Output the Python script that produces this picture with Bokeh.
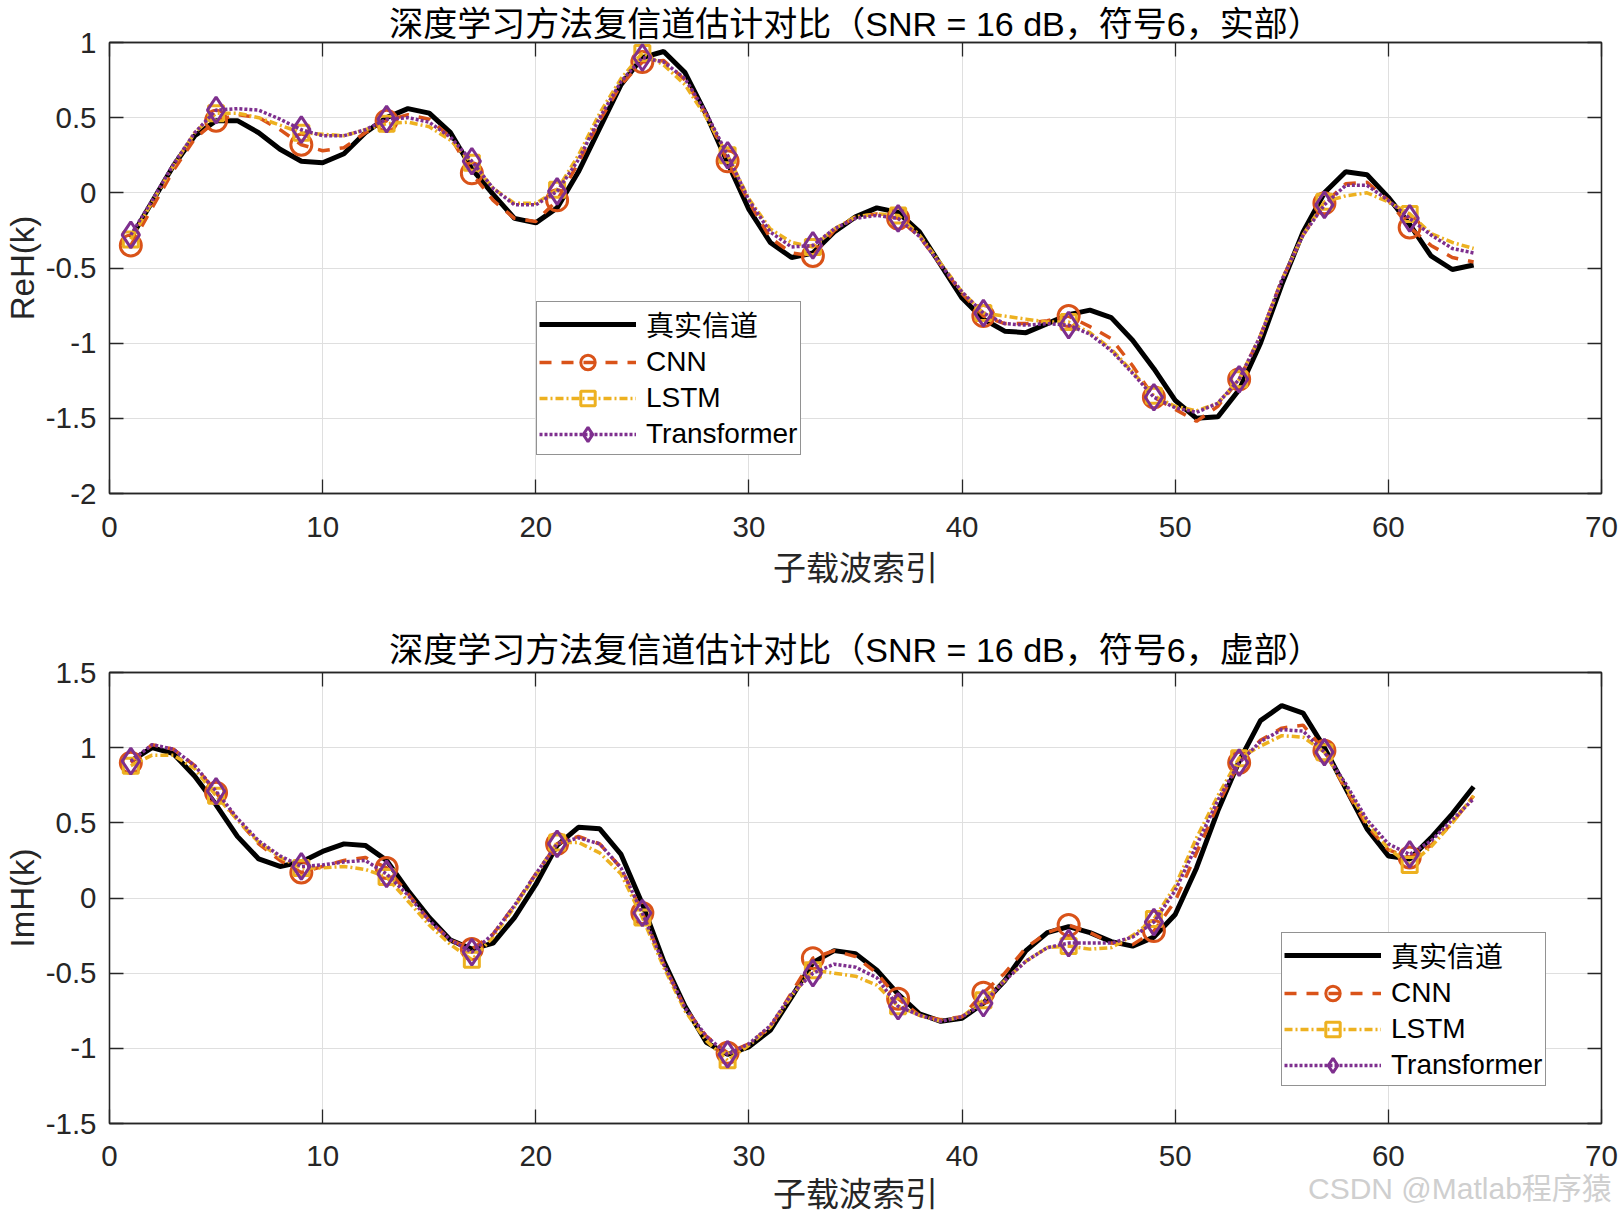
from bokeh.plotting import figure
from bokeh.layouts import column
from bokeh.models import Legend, LegendItem, LinearAxis, FixedTicker, Range1d, Div
from bokeh.embed import file_html
from bokeh.resources import INLINE

k = list(range(1, 65))
marker_idx = list(range(0, 64, 4))  # k = 1, 5, 9, ..., 61

x_ticks = [0, 10, 20, 30, 40, 50, 60, 70]
y_ticks_re = [-2, -1.5, -1, -0.5, 0, 0.5, 1]
y_ticks_im = [-1.5, -1, -0.5, 0, 0.5, 1, 1.5]

series_names = ["真实信道", "CNN", "LSTM", "Transformer"]

real_true = [-0.30, -0.06, 0.18, 0.38, 0.48, 0.48, 0.40, 0.29, 0.21, 0.20,
             0.26, 0.40, 0.50, 0.56, 0.53, 0.40, 0.16, -0.01, -0.17, -0.20,
             -0.10, 0.14, 0.43, 0.72, 0.90, 0.94, 0.80, 0.52, 0.20, -0.11,
             -0.33, -0.43, -0.40, -0.26, -0.16, -0.10, -0.13, -0.26, -0.48, -0.70,
             -0.84, -0.92, -0.93, -0.87, -0.81, -0.78, -0.83, -0.98, -1.17, -1.38,
             -1.50, -1.49, -1.31, -1.00, -0.61, -0.26, 0.00, 0.14, 0.12, -0.03,
             -0.21, -0.42, -0.51, -0.48]
real_cnn = [-0.35, -0.10, 0.15, 0.36, 0.48, 0.52, 0.50, 0.42, 0.32, 0.28,
            0.30, 0.40, 0.48, 0.52, 0.49, 0.37, 0.13, -0.05, -0.17, -0.19,
            -0.05, 0.20, 0.48, 0.72, 0.87, 0.88, 0.75, 0.52, 0.21, -0.06,
            -0.30, -0.40, -0.42, -0.25, -0.16, -0.14, -0.17, -0.29, -0.48, -0.67,
            -0.82, -0.87, -0.87, -0.85, -0.82, -0.89, -0.97, -1.15, -1.36, -1.44,
            -1.52, -1.42, -1.24, -0.95, -0.58, -0.28, -0.07, 0.06, 0.07, -0.05,
            -0.23, -0.35, -0.43, -0.46]
real_lstm = [-0.31, -0.06, 0.18, 0.40, 0.53, 0.53, 0.50, 0.45, 0.40, 0.39,
             0.38, 0.42, 0.46, 0.47, 0.44, 0.35, 0.20, 0.03, -0.07, -0.07,
             0.02, 0.25, 0.53, 0.76, 0.93, 0.85, 0.72, 0.50, 0.25, -0.04,
             -0.24, -0.33, -0.36, -0.24, -0.16, -0.14, -0.15, -0.28, -0.47, -0.66,
             -0.80, -0.82, -0.84, -0.86, -0.86, -0.93, -1.04, -1.19, -1.35, -1.42,
             -1.45, -1.40, -1.24, -0.95, -0.58, -0.28, -0.06, -0.02, 0.00, -0.06,
             -0.14, -0.27, -0.33, -0.37]
real_trans = [-0.28, -0.05, 0.19, 0.40, 0.55, 0.56, 0.55, 0.49, 0.42, 0.38,
              0.38, 0.42, 0.49, 0.50, 0.47, 0.37, 0.21, 0.03, -0.08, -0.08,
              0.01, 0.22, 0.50, 0.74, 0.90, 0.87, 0.76, 0.53, 0.25, -0.05,
              -0.26, -0.36, -0.35, -0.24, -0.17, -0.15, -0.17, -0.29, -0.48, -0.66,
              -0.80, -0.87, -0.88, -0.87, -0.88, -0.94, -1.05, -1.20, -1.36, -1.43,
              -1.46, -1.40, -1.24, -0.95, -0.58, -0.28, -0.08, 0.05, 0.05, -0.05,
              -0.17, -0.28, -0.37, -0.40]

imag_true = [0.91, 1.00, 0.96, 0.81, 0.62, 0.41, 0.26, 0.21, 0.24, 0.31,
             0.36, 0.35, 0.25, 0.05, -0.13, -0.28, -0.34, -0.30, -0.13, 0.09,
             0.35, 0.47, 0.46, 0.29, -0.04, -0.42, -0.72, -0.96, -1.04, -0.99,
             -0.88, -0.66, -0.43, -0.35, -0.37, -0.48, -0.64, -0.77, -0.82, -0.80,
             -0.70, -0.55, -0.35, -0.23, -0.19, -0.23, -0.29, -0.32, -0.26, -0.11,
             0.20, 0.58, 0.91, 1.18, 1.28, 1.23, 1.00, 0.73, 0.46, 0.28,
             0.26, 0.40, 0.56, 0.74]
imag_cnn = [0.90, 1.02, 0.99, 0.88, 0.70, 0.52, 0.36, 0.25, 0.17, 0.21,
            0.25, 0.27, 0.20, 0.03, -0.15, -0.28, -0.34, -0.24, -0.05, 0.16,
            0.36, 0.41, 0.36, 0.20, -0.10, -0.44, -0.73, -0.92, -1.03, -0.97,
            -0.86, -0.63, -0.40, -0.35, -0.39, -0.50, -0.67, -0.78, -0.81, -0.79,
            -0.63, -0.50, -0.33, -0.23, -0.18, -0.23, -0.30, -0.31, -0.22, -0.02,
            0.30, 0.62, 0.90, 1.05, 1.13, 1.15, 0.98, 0.72, 0.48, 0.32,
            0.27, 0.35, 0.50, 0.68]
imag_lstm = [0.88, 0.95, 0.95, 0.86, 0.68, 0.52, 0.37, 0.27, 0.20, 0.20,
             0.21, 0.19, 0.14, -0.02, -0.18, -0.31, -0.41, -0.26, -0.06, 0.15,
             0.37, 0.37, 0.30, 0.16, -0.13, -0.46, -0.75, -0.95, -1.08, -0.98,
             -0.86, -0.65, -0.48, -0.50, -0.52, -0.58, -0.72, -0.78, -0.82, -0.79,
             -0.68, -0.55, -0.42, -0.33, -0.32, -0.34, -0.33, -0.25, -0.14, 0.08,
             0.40, 0.68, 0.93, 1.01, 1.08, 1.07, 0.97, 0.74, 0.50, 0.33,
             0.22, 0.34, 0.50, 0.68]
imag_trans = [0.91, 1.02, 0.99, 0.88, 0.71, 0.53, 0.38, 0.28, 0.21, 0.22,
              0.24, 0.25, 0.16, 0.02, -0.15, -0.28, -0.36, -0.24, -0.05, 0.16,
              0.36, 0.40, 0.36, 0.20, -0.10, -0.44, -0.73, -0.92, -1.04, -0.97,
              -0.85, -0.64, -0.50, -0.44, -0.46, -0.53, -0.72, -0.78, -0.82, -0.79,
              -0.70, -0.55, -0.42, -0.33, -0.30, -0.30, -0.30, -0.26, -0.16, 0.05,
              0.35, 0.65, 0.90, 1.04, 1.12, 1.11, 0.97, 0.76, 0.52, 0.36,
              0.29, 0.38, 0.52, 0.66]

FONT = "Liberation Sans, Arial, Noto Sans CJK SC, sans-serif"
AX = "#262626"
C_CNN, C_LSTM, C_TR = "#D95319", "#EDB120", "#7E2F8E"


def fmt(v):
    return "%g" % v


def make_fig(title, ylabel, yr, yticks, data, legend_loc, height,
             border_top, border_bottom, title_standoff, tick_standoff, label_standoff):
    p = figure(width=1619, height=height, x_range=Range1d(0, 70), y_range=Range1d(*yr),
               output_backend="svg", toolbar_location=None,
               min_border_left=109, min_border_right=18,
               min_border_top=border_top, min_border_bottom=border_bottom)
    p.title.text = title
    p.title.align = "center"
    p.title.text_font = FONT
    p.title.text_font_size = "34px"
    p.title.text_font_style = "normal"
    p.title.text_color = "#000000"
    p.title.standoff = title_standoff
    p.title.offset = 0

    p.outline_line_color = AX
    p.outline_line_width = 1.3

    for ax, ticks in ((p.xaxis[0], x_ticks), (p.yaxis[0], yticks)):
        ax.ticker = FixedTicker(ticks=ticks)
        ax.major_label_overrides = {t: fmt(t) for t in ticks}
        ax.major_tick_in = 14
        ax.major_tick_out = 0
        ax.minor_tick_line_color = None
        ax.axis_line_color = AX
        ax.axis_line_width = 1.3
        ax.major_tick_line_color = AX
        ax.major_tick_line_width = 1.3
        ax.major_label_text_font = FONT
        ax.major_label_text_font_size = "29.5px"
        ax.major_label_text_color = AX
        ax.axis_label_text_font = FONT
        ax.axis_label_text_font_size = "33px"
        ax.axis_label_text_font_style = "normal"
        ax.axis_label_text_color = AX
    p.xaxis.axis_label = "子载波索引"
    p.yaxis.axis_label = ylabel
    p.xaxis.major_label_standoff = tick_standoff
    p.yaxis.major_label_standoff = 13
    p.xaxis.axis_label_standoff = label_standoff
    p.yaxis.axis_label_standoff = 2

    for loc, ticks in (("above", x_ticks), ("right", yticks)):
        ax = LinearAxis(ticker=FixedTicker(ticks=ticks), major_tick_in=14, major_tick_out=0,
                        minor_tick_line_color=None, axis_line_color=AX, axis_line_width=1.3,
                        major_tick_line_color=AX, major_tick_line_width=1.3,
                        major_label_text_font_size="0px", major_label_text_color=None,
                        major_label_text_alpha=0, major_label_standoff=0)
        p.add_layout(ax, loc)

    p.grid.grid_line_color = "#dfdfdf"
    p.grid.grid_line_width = 1
    p.xgrid.ticker = FixedTicker(ticks=x_ticks)
    p.ygrid.ticker = FixedTicker(ticks=yticks)

    tr, cnn, lstm, trf = data
    km = [k[i] for i in marker_idx]

    r_true = p.line(k, tr, line_color="black", line_width=5)
    r_cnn = p.line(k, cnn, line_color=C_CNN, line_width=3.5, line_dash="12 10")
    m_cnn = p.scatter(km, [cnn[i] for i in marker_idx], marker="circle", size=21,
                      line_color=C_CNN, fill_color=None, line_width=3)
    r_lstm = p.line(k, lstm, line_color=C_LSTM, line_width=3.5, line_dash="8 3 2 3")
    m_lstm = p.scatter(km, [lstm[i] for i in marker_idx], marker="square", size=15,
                       line_color=C_LSTM, fill_color=None, line_width=3)
    r_tr = p.line(k, trf, line_color=C_TR, line_width=3.5, line_dash="3 2")
    m_tr = p.scatter(km, [trf[i] for i in marker_idx], marker="diamond", size=26,
                     line_color=C_TR, fill_color=None, line_width=3)

    legend = Legend(items=[
        LegendItem(label=series_names[0], renderers=[r_true]),
        LegendItem(label=series_names[1], renderers=[r_cnn, m_cnn]),
        LegendItem(label=series_names[2], renderers=[r_lstm, m_lstm]),
        LegendItem(label=series_names[3], renderers=[r_tr, m_tr]),
    ], location=legend_loc)
    legend.label_text_font = FONT
    legend.label_text_font_size = "28px"
    legend.label_text_color = "#000000"
    legend.glyph_width = 97
    legend.glyph_height = 36
    legend.label_width = 152
    legend.spacing = 0
    legend.padding = 2
    legend.margin = 0
    legend.label_standoff = 10
    legend.border_line_color = AX
    legend.border_line_width = 1.3
    legend.background_fill_color = "white"
    legend.background_fill_alpha = 1
    p.add_layout(legend)
    return p


p1 = make_fig("深度学习方法复信道估计对比（SNR = 16 dB，符号6，实部）", "ReH(k)",
              (-2, 1), y_ticks_re, (real_true, real_cnn, real_lstm, real_trans),
              (427, 38), 620, 42, 127, 0, 23, 10)
p2 = make_fig("深度学习方法复信道估计对比（SNR = 16 dB，符号6，虚部）", "ImH(k)",
              (-1.5, 1.5), y_ticks_im, (imag_true, imag_cnn, imag_lstm, imag_trans),
              (1172, 37), 595, 52, 92, 8, 22, 7)

watermark = Div(text="CSDN @Matlab程序猿", width=310, height=36,
                margin=(-44, 0, 0, 1308),
                styles={"font-family": FONT, "font-size": "30px", "color": "#cfcfcf",
                        "line-height": "36px", "white-space": "nowrap"})

layout = column(p1, p2, watermark, spacing=0)
open("out.html", "w").write(file_html(layout, INLINE))
